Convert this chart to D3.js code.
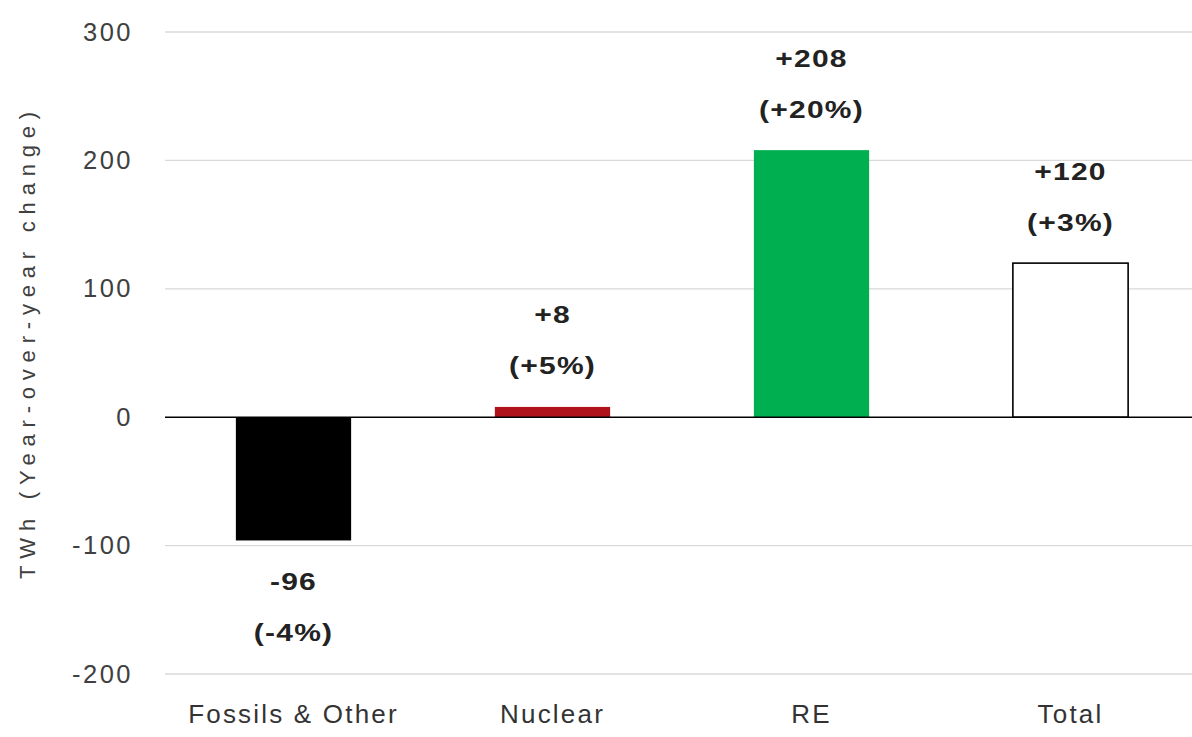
<!DOCTYPE html>
<html>
<head>
<meta charset="utf-8">
<script src="https://cdn.jsdelivr.net/npm/d3@7"></script>
<style>
  body { margin: 0; background: #fff; }
  svg { display: block; }
</style>
</head>
<body>
<svg class="main"></svg>
<script>
// chart data
var categories = ['Fossils & Other', 'Nuclear', 'RE', 'Total'],
    values = [-96, 8, 208, 120],
    valueLabels = ['-96', '+8', '+208', '+120'],
    pctLabels = ['(-4%)', '(+5%)', '(+20%)', '(+3%)'],
    barFills = ['#000000', '#b0121c', '#00b050', '#ffffff'],
    yTicks = [-200, -100, 0, 100, 200, 300];

var width = 1192,
    height = 737,
    plotLeft = 164,
    plotRight = 1200,
    yTop = 32,
    yBottom = 674,
    gridStroke = '#d9d9d9',
    labelFont = '"Liberation Sans", Arial, sans-serif';

var svg = d3.select('.main')
    .attr('width', width)
    .attr('height', height);

var x = d3.scaleBand()
    .domain(categories)
    .range([plotLeft, plotRight])
    .paddingInner(0.555)
    .paddingOuter(0.2775);

var y = d3.scaleLinear()
    .domain([-200, 300])
    .range([yBottom, yTop]);

// gridlines
svg.append('g')
    .selectAll('line')
    .data(yTicks.filter(d => d != 0))
    .enter().append('line')
    .attr('x1', plotLeft + 1)
    .attr('x2', width)
    .attr('y1', d => y(d))
    .attr('y2', d => y(d))
    .attr('stroke', gridStroke)
    .attr('stroke-width', 1.3);

// y axis tick labels
var yAxis = d3.axisLeft(y)
    .tickValues(yTicks)
    .tickSize(0)
    .tickPadding(0)
    .tickFormat(d => String(d));

var gY = svg.append('g')
    .attr('transform', 'translate(133,0)')
    .call(yAxis);

gY.select('.domain').remove();
gY.selectAll('text')
    .style('font-family', labelFont)
    .style('font-size', '25.5px')
    .style('letter-spacing', '2.5px')
    .attr('fill', '#404040');

// y axis title
svg.append('text')
    .attr('transform', 'translate(35,' + 342 + ') rotate(-90)')
    .attr('text-anchor', 'middle')
    .style('font-family', labelFont)
    .style('font-size', '22px')
    .style('letter-spacing', '6.8px')
    .attr('fill', '#404040')
    .text('TWh (Year-over-year change)');

// bars
svg.append('g')
    .selectAll('rect')
    .data(values)
    .enter().append('rect')
    .attr('x', (d, i) => x(categories[i]))
    .attr('width', x.bandwidth())
    .attr('y', d => y(Math.max(0, d)))
    .attr('height', d => Math.abs(y(d) - y(0)))
    .attr('fill', (d, i) => barFills[i])
    .attr('stroke', (d, i) => i == 3 ? '#000' : 'none')
    .attr('stroke-width', 1.6);

// zero line
svg.append('line')
    .attr('x1', plotLeft + 1)
    .attr('x2', width)
    .attr('y1', y(0))
    .attr('y2', y(0))
    .attr('stroke', '#000')
    .attr('stroke-width', 1.6);

// value labels (two lines)
var lbl = svg.append('g')
    .selectAll('g')
    .data(values)
    .enter().append('g')
    .attr('transform', (d, i) => 'translate(' + (x(categories[i]) + x.bandwidth() / 2) + ',0)');

function addLabel(sel, text, off1) {
    sel.append('text')
        .attr('transform', d => {
            var cy = d >= 0 ? y(d) - off1 : y(d) + off1;
            return 'translate(0,' + cy + ') scale(1.25,1)';
        })
        .attr('text-anchor', 'middle')
        .attr('dy', '0.35em')
        .style('font-family', labelFont)
        .style('font-weight', 'bold')
        .style('font-size', '24px')
        .style('letter-spacing', '1px')
        .attr('fill', '#222')
        .text(text);
}

addLabel(lbl, (d, i) => d >= 0 ? valueLabels[i] : pctLabels[i], 92);
addLabel(lbl, (d, i) => d >= 0 ? pctLabels[i] : valueLabels[i], 41);

// category labels
svg.append('g')
    .selectAll('text')
    .data(categories)
    .enter().append('text')
    .attr('x', d => x(d) + x.bandwidth() / 2)
    .attr('y', 714)
    .attr('dy', '0.35em')
    .attr('text-anchor', 'middle')
    .style('font-family', labelFont)
    .style('font-size', '26px')
    .style('letter-spacing', '2.2px')
    .attr('fill', '#333')
    .text(d => d);
</script>
</body>
</html>
